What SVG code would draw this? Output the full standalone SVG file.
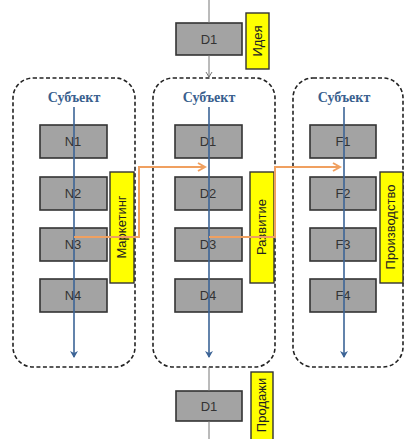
<svg xmlns="http://www.w3.org/2000/svg" width="405" height="439" viewBox="0 0 405 439">
<defs>
<style>
.cont{fill:#fff;stroke:#222;stroke-width:1.6;stroke-dasharray:4,2.5}
.box{fill:#a3a3a3;stroke:#333;stroke-width:1.6}
.yel{fill:#ffff00;stroke:#333;stroke-width:1.4}
.bt{font-family:"Liberation Sans",Arial,sans-serif;font-size:13px;fill:#333;text-anchor:middle}
.yt{font-family:"Liberation Sans",Arial,sans-serif;font-size:13px;fill:#222;text-anchor:middle}
.subj{font-family:"Liberation Serif","Times New Roman",serif;font-size:14px;font-weight:bold;fill:#3a5f8e;text-anchor:middle}
.blue{stroke:#3c6496;stroke-width:1.6;fill:none}
.org{stroke:#f0a060;stroke-width:2;fill:none}
.grey{stroke:#777;stroke-width:1;fill:none}
</style>
<marker id="ab" markerWidth="8" markerHeight="8" refX="6" refY="4" orient="auto" markerUnits="userSpaceOnUse"><path d="M0,0 L7,4 L0,8 L2,4 Z" fill="#3c6496"/></marker>
<marker id="ao" markerWidth="10" markerHeight="10" refX="8" refY="5" orient="auto" markerUnits="userSpaceOnUse"><path d="M1,1 L8,5 L1,9" fill="none" stroke="#f0a060" stroke-width="2"/></marker>
<marker id="ag" markerWidth="8" markerHeight="8" refX="6" refY="4" orient="auto" markerUnits="userSpaceOnUse"><path d="M1,1 L6,4 L1,7" fill="none" stroke="#777" stroke-width="1"/></marker>
</defs>

<g id="containers">
<rect id="c1" class="cont" x="13" y="78" width="122" height="289" rx="20"/>
<rect id="c2" class="cont" x="153" y="78" width="122" height="289" rx="20"/>
<rect id="c3" class="cont" x="293" y="78" width="110" height="289" rx="20"/>
<text class="subj" x="74" y="102">Субъект</text>
<text class="subj" x="209" y="102">Субъект</text>
<text class="subj" x="344" y="102">Субъект</text>
</g>

<g id="idea">
<rect class="box" x="176" y="23" width="66" height="32"/>
<text class="bt" x="209" y="44">D1</text>
<rect class="yel" x="246" y="13" width="23" height="56"/>
<text class="yt" transform="translate(262,41) rotate(-90)">Идея</text>
</g>

<g id="sales">
<rect class="box" x="176" y="391" width="66" height="30"/>
<text class="bt" x="209" y="411">D1</text>
<rect class="yel" x="251" y="372" width="22" height="70"/>
<text class="yt" transform="translate(266,405) rotate(-90)">Продажи</text>
</g>

<g id="col1">
<g id="N1"><rect class="box" x="40" y="125" width="67" height="33"/><text class="bt" x="73" y="146">N1</text></g>
<g id="N2"><rect class="box" x="40" y="177" width="67" height="33"/><text class="bt" x="73" y="198">N2</text></g>
<g id="N3"><rect class="box" x="40" y="228" width="67" height="33"/><text class="bt" x="73" y="249">N3</text></g>
<g id="N4"><rect class="box" x="40" y="279" width="67" height="33"/><text class="bt" x="73" y="300">N4</text></g>
<g id="marketing"><rect class="yel" x="110" y="172" width="24" height="111"/><text class="yt" transform="translate(126,227) rotate(-90)">Маркетинг</text></g>
</g>

<g id="col2">
<g id="D1"><rect class="box" x="175" y="125" width="67" height="33"/><text class="bt" x="208" y="146">D1</text></g>
<g id="D2"><rect class="box" x="175" y="177" width="67" height="33"/><text class="bt" x="208" y="198">D2</text></g>
<g id="D3"><rect class="box" x="175" y="228" width="67" height="33"/><text class="bt" x="208" y="249">D3</text></g>
<g id="D4"><rect class="box" x="175" y="279" width="67" height="33"/><text class="bt" x="208" y="300">D4</text></g>
<g id="razvitie"><rect class="yel" x="250" y="172" width="24" height="111"/><text class="yt" transform="translate(266,227) rotate(-90)">Развитие</text></g>
</g>

<g id="col3">
<g id="F1"><rect class="box" x="310" y="125" width="66" height="33"/><text class="bt" x="343" y="146">F1</text></g>
<g id="F2"><rect class="box" x="310" y="177" width="66" height="33"/><text class="bt" x="343" y="198">F2</text></g>
<g id="F3"><rect class="box" x="310" y="228" width="66" height="33"/><text class="bt" x="343" y="249">F3</text></g>
<g id="F4"><rect class="box" x="310" y="279" width="66" height="33"/><text class="bt" x="343" y="300">F4</text></g>
<g id="proizvodstvo"><rect class="yel" x="380" y="172" width="23" height="111"/><text class="yt" transform="translate(395,227) rotate(-90)">Производство</text></g>
</g>

<g id="connectors">
<line class="grey" x1="209" y1="0" x2="209" y2="23"/>
<line class="grey" x1="209" y1="55" x2="209" y2="77" marker-end="url(#ag)"/>
<line class="grey" x1="209" y1="367" x2="209" y2="391"/>
<line class="grey" x1="209" y1="421" x2="209" y2="439"/>
<line class="blue" x1="74" y1="107" x2="74" y2="357" marker-end="url(#ab)"/>
<line class="blue" x1="209" y1="107" x2="209" y2="357" marker-end="url(#ab)"/>
<line class="blue" x1="344" y1="107" x2="344" y2="357" marker-end="url(#ab)"/>
<polyline class="org" points="74,237 139,237 139,167 205,167" marker-end="url(#ao)"/>
<polyline class="org" points="209,237 275,237 275,167 340,167" marker-end="url(#ao)"/>
</g>
</svg>
